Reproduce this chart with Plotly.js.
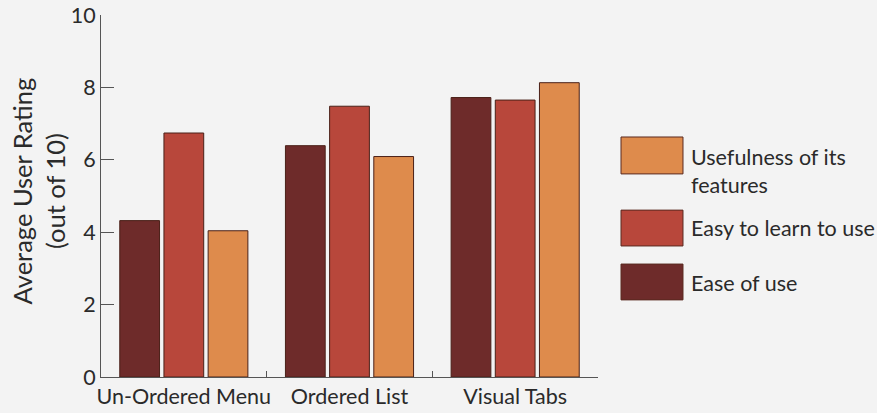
<!DOCTYPE html>
<html>
<head>
<meta charset="utf-8">
<script src="https://cdn.plot.ly/plotly-3.0.1.min.js"></script>
<style>html,body{margin:0;padding:0;background:#f3f3f3;}#chart{width:877px;height:413px;}</style>
</head>
<body>
<div id="chart"></div>
<script>
const categories = ["Un-Ordered Menu", "Ordered List", "Visual Tabs"];
const seriesNames = ["Ease of use", "Easy to learn to use", "Usefulness of its<br>features"];
const easeOfUse = [4.32, 6.39, 7.72];
const easyToLearn = [6.74, 7.48, 7.65];
const usefulness = [4.04, 6.09, 8.13];
const yTicks = [0, 2, 4, 6, 8, 10];
const yTitle = "Average User Rating<br>(out of 10)";

const colors = ["#6e2b2a", "#b8473b", "#de8b4c"];
const seriesValues = [easeOfUse, easyToLearn, usefulness];
const font = "Lato, 'Open Sans', sans-serif";

const traces = seriesValues.map((vals, i) => ({
  type: "bar",
  x: categories,
  y: vals,
  name: seriesNames[i],
  marker: {color: colors[i], line: {color: "#4a2018", width: 1}},
  showlegend: false,
  hoverinfo: "x+y"
}));

// custom legend (large swatches), top to bottom: usefulness, easy to learn, ease of use
const legendBoxes = [
  {idx: 2, y0: 0.561, y1: 0.663, ty: 0.570},
  {idx: 1, y0: 0.362, y1: 0.461, ty: 0.4116},
  {idx: 0, y0: 0.213, y1: 0.312, ty: 0.2597}
];
const shapes = legendBoxes.map(b => ({
  type: "rect", xref: "paper", yref: "paper",
  x0: 1.0463, x1: 1.171, y0: b.y0, y1: b.y1,
  fillcolor: colors[b.idx], line: {color: "#5a2a20", width: 1}
}));
const annotations = legendBoxes.map(b => ({
  xref: "paper", yref: "paper", x: 1.1835, y: b.ty,
  xanchor: "left", yanchor: "middle", align: "left", showarrow: false,
  text: seriesNames[b.idx],
  font: {family: font, size: 21.5, color: "#2a2a2a"}
}));
// y-axis title placed as rotated annotation
annotations.push({
  xref: "paper", yref: "paper", x: -0.1258, y: 0.514,
  xanchor: "center", yanchor: "middle", textangle: -90, showarrow: false,
  text: yTitle, font: {family: font, size: 25.5, color: "#2a2a2a"}
});

const layout = {
  width: 877, height: 413,
  paper_bgcolor: "#f3f3f3", plot_bgcolor: "#f3f3f3",
  margin: {l: 101, r: 279, t: 15, b: 36},
  barmode: "group", bargap: 0.2, bargroupgap: 0.1,
  font: {family: font, color: "#2a2a2a"},
  xaxis: {
    range: [-0.5, 2.5], showline: true, linecolor: "#555", linewidth: 1,
    ticks: "inside", tickson: "boundaries", ticklen: 6, tickcolor: "#555",
    tickangle: 0,
    tickfont: {family: font, size: 21.5, color: "#2a2a2a"},
    showgrid: false, zeroline: false, fixedrange: true
  },
  yaxis: {
    range: [0, 10], tickvals: yTicks, ticktext: yTicks.map(String),
    showline: true, linecolor: "#555", linewidth: 1,
    ticks: "inside", ticklen: 13, tickcolor: "#555",
    tickfont: {family: font, size: 21.5, color: "#2a2a2a"},
    showgrid: false, zeroline: false, fixedrange: true
  },
  shapes: shapes,
  annotations: annotations
};

Plotly.newPlot("chart", traces, layout, {displayModeBar: false, staticPlot: true});
</script>
</body>
</html>
